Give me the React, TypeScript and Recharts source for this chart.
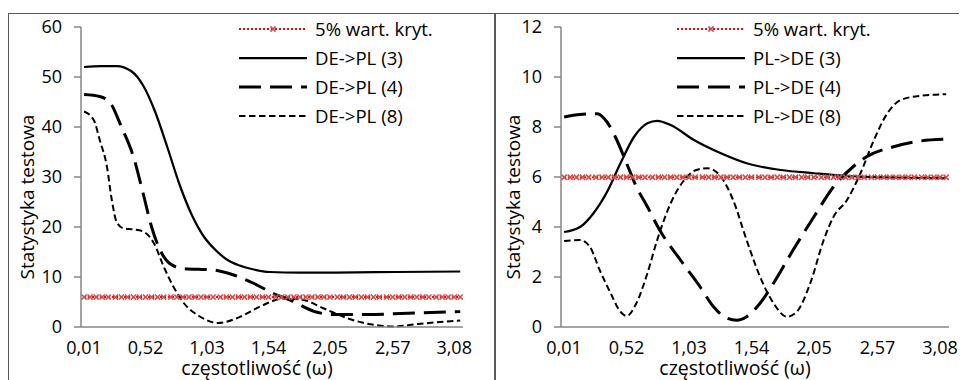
import React from 'react';
import { LineChart, Line, XAxis, YAxis, Label } from 'recharts';

// frequency grid of the category axis (omega)
const FREQ = [
  0.01, 0.06, 0.11, 0.16, 0.21, 0.27, 0.32, 0.37, 0.42, 0.47, 0.52, 0.57, 0.62, 0.67, 0.73, 0.78,
  0.83, 0.88, 0.93, 0.98, 1.03, 1.08, 1.14, 1.19, 1.24, 1.29, 1.34, 1.39, 1.44, 1.49, 1.54, 1.6,
  1.65, 1.7, 1.75, 1.8, 1.85, 1.9, 1.95, 2.0, 2.05, 2.11, 2.16, 2.21, 2.26, 2.31, 2.36, 2.41,
  2.46, 2.52, 2.57, 2.62, 2.67, 2.72, 2.77, 2.82, 2.87, 2.93, 2.98, 3.03, 3.08, 3.13,
];
const X_TICKS = [0.01, 0.52, 1.03, 1.54, 2.05, 2.57, 3.08];
const X_LABELS = ['0,01', '0,52', '1,03', '1,54', '2,05', '2,57', '3,08'];
const Y_TICKS_LEFT = [0, 10, 20, 30, 40, 50, 60];
const Y_TICKS_RIGHT = [0, 2, 4, 6, 8, 10, 12];
const CRIT_VALUE = 5.99;

// [omega, statistic]
const DE_PL_3 = [
  [0.01, 52.0], [0.15, 52.2], [0.28, 52.2], [0.4, 51.2], [0.5, 48.3], [0.6, 43.0], [0.7, 36.0],
  [0.8, 28.6], [0.9, 22.6], [1.0, 18.2], [1.1, 15.4], [1.2, 13.4], [1.3, 12.3], [1.4, 11.6],
  [1.55, 11.0], [1.8, 10.9], [2.1, 10.9], [2.6, 11.0], [3.13, 11.1],
];
const DE_PL_4 = [
  [0.01, 46.5], [0.14, 46.1], [0.23, 44.7], [0.32, 40.0], [0.42, 34.0], [0.5, 26.7], [0.57, 20.0],
  [0.64, 15.4], [0.72, 12.7], [0.83, 11.7], [1.08, 11.4], [1.25, 10.4], [1.42, 8.7], [1.58, 6.7],
  [1.72, 5.4], [1.92, 3.1], [2.08, 2.5], [2.36, 2.5], [2.64, 2.7], [3.13, 3.1],
];
const DE_PL_8 = [
  [0.01, 43.1], [0.09, 41.4], [0.14, 37.4], [0.2, 32.0], [0.24, 25.4], [0.28, 21.0], [0.34, 19.7],
  [0.42, 19.5], [0.5, 19.1], [0.59, 16.7], [0.67, 12.1], [0.75, 8.1], [0.84, 4.7], [0.97, 2.1],
  [1.12, 0.8], [1.31, 2.1], [1.47, 4.1], [1.67, 5.7], [1.83, 5.4], [2.0, 3.7], [2.2, 1.7],
  [2.42, 0.4], [2.58, 0.1], [2.78, 0.6], [3.13, 1.3],
];
const PL_DE_3 = [
  [0.01, 3.8], [0.14, 4.0], [0.25, 4.55], [0.36, 5.4], [0.47, 6.55], [0.58, 7.6], [0.69, 8.15],
  [0.77, 8.25], [0.88, 8.08], [1.07, 7.48], [1.29, 6.95], [1.5, 6.55], [1.78, 6.28], [2.05, 6.15],
  [2.32, 6.04], [2.7, 5.98], [3.13, 5.95],
];
const PL_DE_4 = [
  [0.01, 8.4], [0.14, 8.5], [0.28, 8.53], [0.36, 8.2], [0.44, 7.48], [0.52, 6.55], [0.6, 5.61],
  [0.69, 4.81], [0.79, 3.88], [0.96, 2.68], [1.12, 1.61], [1.23, 0.81], [1.34, 0.35], [1.42, 0.27],
  [1.5, 0.41], [1.61, 0.95], [1.72, 1.75], [1.88, 3.08], [2.05, 4.41], [2.21, 5.61], [2.37, 6.41],
  [2.48, 6.81], [2.7, 7.21], [2.92, 7.44], [3.13, 7.51],
];
const PL_DE_8 = [
  [0.01, 3.44], [0.14, 3.48], [0.22, 3.21], [0.3, 2.28], [0.39, 1.35], [0.47, 0.61], [0.52, 0.44],
  [0.6, 0.95], [0.69, 2.15], [0.77, 3.48], [0.88, 4.95], [0.98, 5.81], [1.09, 6.28], [1.18, 6.35],
  [1.29, 6.01], [1.39, 5.08], [1.5, 3.48], [1.61, 2.01], [1.72, 0.95], [1.83, 0.41], [1.91, 0.61],
  [2.02, 1.75], [2.13, 3.48], [2.21, 4.41], [2.32, 5.08], [2.43, 6.15], [2.54, 7.48], [2.65, 8.55],
  [2.76, 9.08], [2.92, 9.25], [3.13, 9.31],
];

const FONT = '"Open Sans", sans-serif';
const AXIS_COLOR = '#868686';
const X_DOMAIN = [-0.0156, 3.153];

const toRows = (pts: number[][]) => pts.map(([w, v]) => ({ w, v }));
const critRows = FREQ.map((w) => ({ w, v: CRIT_VALUE }));

const STYLES = {
  solid: { stroke: '#000', strokeWidth: 2.25, strokeDasharray: undefined },
  long: { stroke: '#000', strokeWidth: 3, strokeDasharray: '22 9' },
  short: { stroke: '#000', strokeWidth: 2, strokeDasharray: '6.5 3.5' },
};

const Cross = (props: any) => {
  const { cx, cy } = props;
  if (cx == null || cy == null) return null;
  const s = 2.6;
  return (
    <path
      d={`M${cx - s},${cy - s}L${cx + s},${cy + s}M${cx - s},${cy + s}L${cx + s},${cy - s}`}
      stroke="#d0504d"
      strokeWidth={1.5}
      fill="none"
    />
  );
};

const LegendBox = ({ names, left }: { names: string[]; left: number }) => {
  const rows = [
    { name: '5% wart. kryt.', kind: 'crit' },
    { name: names[0], kind: 'solid' },
    { name: names[1], kind: 'long' },
    { name: names[2], kind: 'short' },
  ];
  return (
    <div style={{ position: 'absolute', left, top: 1, fontFamily: FONT, fontSize: 18.6, color: '#000' }}>
      {rows.map((r) => (
        <div key={r.name} style={{ display: 'flex', alignItems: 'center', height: 29 }}>
          <svg width={68} height={12} style={{ marginRight: 8 }}>
            {r.kind === 'crit' ? (
              <>
                <line x1={0} x2={68} y1={6} y2={6} stroke="#ff0000" strokeWidth={2} strokeDasharray="2 2" />
                <Cross cx={34} cy={6} />
              </>
            ) : (
              <line
                x1={0}
                x2={68}
                y1={6}
                y2={6}
                stroke="#000"
                strokeWidth={STYLES[r.kind as 'solid'].strokeWidth}
                strokeDasharray={STYLES[r.kind as 'solid'].strokeDasharray}
              />
            )}
          </svg>
          <span style={{ whiteSpace: 'nowrap' }}>{r.name}</span>
        </div>
      ))}
    </div>
  );
};

type PanelProps = {
  width: number;
  marginLeft: number;
  marginRight: number;
  yTicks: number[];
  series: number[][][];
  names: string[];
  legendLeft: number;
  yTitleX: number;
  xTitleX: number;
};

const Panel = ({ width, marginLeft, marginRight, yTicks, series, names, legendLeft, yTitleX, xTitleX }: PanelProps) => {
  const tickStyle = { fill: '#000', fontSize: 18, fontFamily: FONT };
  const kinds = ['solid', 'long', 'short'] as const;
  return (
    <div style={{ position: 'relative', width, height: 367 }}>
      <LineChart
        width={width}
        height={367}
        margin={{ top: 14, right: marginRight, bottom: 23, left: marginLeft }}
      >
        <XAxis
          type="number"
          dataKey="w"
          domain={X_DOMAIN}
          ticks={X_TICKS}
          allowDataOverflow
          tickFormatter={(v: number) => X_LABELS[X_TICKS.indexOf(v)]}
          tick={tickStyle}
          tickLine={false}
          tickSize={0}
          tickMargin={14}
          height={30}
          stroke={AXIS_COLOR}
          strokeWidth={1.5}
          interval={0}
        >
          <Label
            content={() => (
              <text x={xTitleX} y={362} textAnchor="middle" fontFamily={FONT} fontSize={19.5} fill="#000">
                częstotliwość (ω)
              </text>
            )}
          />
        </XAxis>
        <YAxis
          type="number"
          domain={[yTicks[0], yTicks[yTicks.length - 1]]}
          ticks={yTicks}
          interval={0}
          width={50}
          tick={tickStyle}
          tickSize={7}
          tickMargin={12}
          stroke={AXIS_COLOR}
          strokeWidth={1.5}
        >
          <Label
            content={() => (
              <text
                x={yTitleX}
                y={184}
                textAnchor="middle"
                dominantBaseline="central"
                transform={`rotate(-90 ${yTitleX} 184)`}
                fontFamily={FONT}
                fontSize={19}
                fill="#000"
              >
                Statystyka testowa
              </text>
            )}
          />
        </YAxis>
        <Line
          data={critRows}
          dataKey="v"
          type="linear"
          stroke="#ff0000"
          strokeWidth={2}
          strokeDasharray="2 2"
          dot={<Cross />}
          isAnimationActive={false}
        />
        {series.map((pts, i) => (
          <Line
            key={names[i]}
            data={toRows(pts)}
            dataKey="v"
            type="monotone"
            dot={false}
            stroke={STYLES[kinds[i]].stroke}
            strokeWidth={STYLES[kinds[i]].strokeWidth}
            strokeDasharray={STYLES[kinds[i]].strokeDasharray}
            isAnimationActive={false}
          />
        ))}
      </LineChart>
      <LegendBox names={names} left={legendLeft} />
    </div>
  );
};

export default function App() {
  return (
    <div style={{ position: 'relative', width: 959, height: 372, overflow: 'hidden', background: '#fff' }}>
      <div
        style={{
          position: 'absolute',
          left: 0,
          top: 5,
          width: 959,
          height: 367,
          borderTop: '1.5px solid #595959',
          borderLeft: '1.5px solid #595959',
        }}
      />
      <div style={{ position: 'absolute', left: 486, top: 5, width: 1.5, height: 367, background: '#595959' }} />
      <div style={{ position: 'absolute', left: 0, top: 5 }}>
        <Panel
          width={486}
          marginLeft={23}
          marginRight={31}
          yTicks={Y_TICKS_LEFT}
          series={[DE_PL_3, DE_PL_4, DE_PL_8]}
          names={['DE->PL (3)', 'DE->PL (4)', 'DE->PL (8)']}
          legendLeft={231}
          yTitleX={19}
          xTitleX={249}
        />
      </div>
      <div style={{ position: 'absolute', left: 486, top: 5 }}>
        <Panel
          width={473}
          marginLeft={17}
          marginRight={18}
          yTicks={Y_TICKS_RIGHT}
          series={[PL_DE_3, PL_DE_4, PL_DE_8]}
          names={['PL->DE (3)', 'PL->DE (4)', 'PL->DE (8)']}
          legendLeft={183}
          yTitleX={19}
          xTitleX={241}
        />
      </div>
    </div>
  );
}
